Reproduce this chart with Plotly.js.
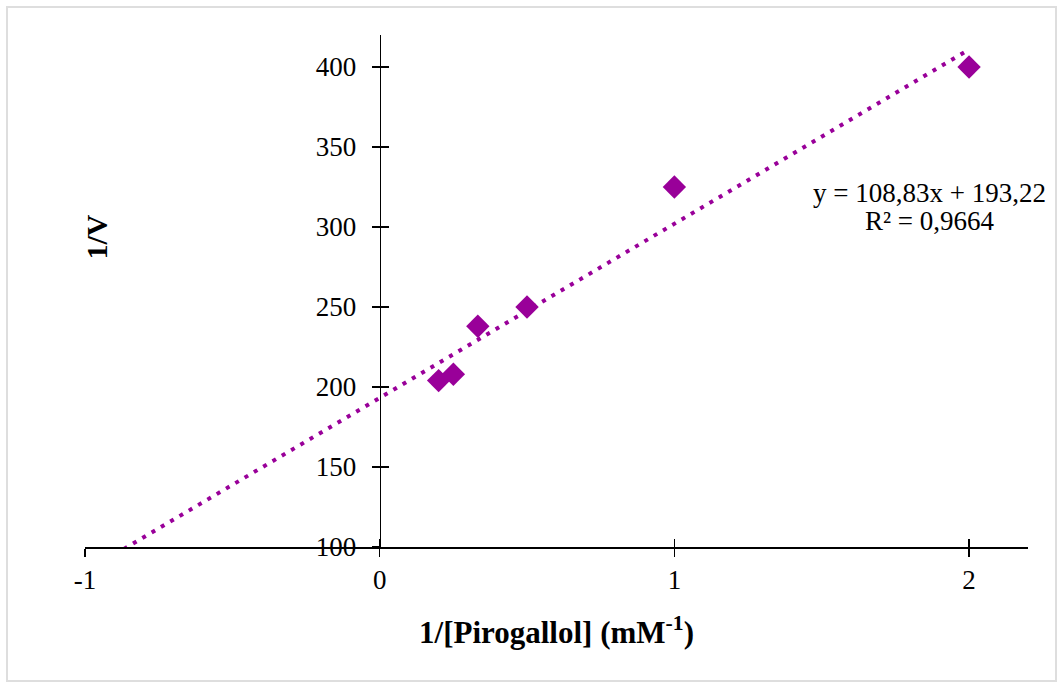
<!DOCTYPE html>
<html>
<head>
<meta charset="utf-8">
<script src="https://cdn.plot.ly/plotly-3.0.1.min.js"></script>
<style>
  html, body { margin: 0; padding: 0; background: #fff; }
  #wrap { position: relative; width: 1060px; height: 684px; }
  #chart { position: absolute; left: 0; top: 0; width: 1060px; height: 684px; }
  #frame { position: absolute; left: 6px; top: 6px; width: 1047px; height: 672px;
           border: 2px solid #dedede; pointer-events: none; }
</style>
</head>
<body>
<div id="wrap">
  <div id="chart"></div>
  <div id="frame"></div>
</div>
<script>
// Lineweaver-Burk data: 1/[S] (mM^-1) vs 1/V
const invSubstrate = [0.2, 0.25, 0.333, 0.5, 1, 2];
const invVelocity  = [204, 208, 238, 250, 325, 400];

// Linear trendline reported on the chart
const trendSlope = 108.83;
const trendIntercept = 193.22;
const trendRange = [-0.9, 2];
const equationLines = ["y = 108,83x + 193,22", "R² = 0,9664"];

const xTickVals = [-1, 0, 1, 2];
const xTickText = ["-1", "0", "1", "2"];
const yTickVals = [100, 150, 200, 250, 300, 350, 400];
const yTickText = ["100", "150", "200", "250", "300", "350", "400"];

const purple = "#990099";
const serif = "'Liberation Serif', 'Times New Roman', serif";

const trendY = trendRange.map(x => trendIntercept + trendSlope * x);

const traces = [
  {
    x: trendRange, y: trendY, type: "scatter", mode: "lines",
    line: { color: purple, width: 4, dash: "4px,6.8px" },
    hoverinfo: "skip", showlegend: false
  },
  {
    x: invSubstrate, y: invVelocity, type: "scatter", mode: "markers",
    marker: { symbol: "diamond", size: 18, color: purple, line: { width: 0 } },
    showlegend: false
  },
  { x: [], y: [], xaxis: "x2", yaxis: "y2", type: "scatter", mode: "markers", showlegend: false, hoverinfo: "skip" }
];

const xRange = [-1, 2.2];
const yRange = [100, 420];
const yAxisPos = (0 - xRange[0]) / (xRange[1] - xRange[0]);

const layout = {
  width: 1060, height: 684,
  paper_bgcolor: "#ffffff", plot_bgcolor: "#ffffff",
  margin: { l: 85, r: 32, t: 35, b: 137, pad: 0 },
  font: { family: serif, color: "#000", size: 27 },
  showlegend: false,
  xaxis: {
    range: xRange, showgrid: false, zeroline: false,
    showline: true, linecolor: "#000", linewidth: 1.5,
    ticks: "outside", ticklen: 8, tickwidth: 1.5, tickcolor: "#000",
    tickmode: "array", tickvals: xTickVals, ticktext: xTickText,
    tickfont: { family: serif, size: 27, color: "#000" },
    ticklabelstandoff: 0,
    anchor: "y",
    title: { text: "<b>1/[Pirogallol] (mM<sup>-1</sup>)</b>", font: { family: serif, size: 31, color: "#000" }, standoff: 27 }
  },
  yaxis: {
    range: yRange, showgrid: false, zeroline: false,
    showline: true, linecolor: "#000", linewidth: 1.5,
    ticks: "outside", ticklen: 8, tickwidth: 1.5, tickcolor: "#000",
    tickmode: "array", tickvals: yTickVals, ticktext: yTickText,
    tickfont: { family: serif, size: 27, color: "#000" },
    ticklabelstandoff: 10,
    anchor: "free", position: yAxisPos
  },
  xaxis2: {
    range: xRange, overlaying: "x", anchor: "y2", showgrid: false, zeroline: false,
    showline: false, ticks: "inside", ticklen: 8, tickwidth: 1.5, tickcolor: "#000",
    tickmode: "array", tickvals: xTickVals, showticklabels: false
  },
  yaxis2: {
    range: yRange, overlaying: "y", anchor: "free", position: yAxisPos,
    showgrid: false, zeroline: false,
    showline: false, ticks: "inside", ticklen: 8, tickwidth: 1.5, tickcolor: "#000",
    tickmode: "array", tickvals: yTickVals, showticklabels: false
  },
  annotations: [
    { xref: "x", yref: "y", x: 1.866, y: 321.5, text: equationLines[0], showarrow: false,
      font: { family: serif, size: 27, color: "#000" }, xanchor: "center", yanchor: "middle" },
    { xref: "x", yref: "y", x: 1.866, y: 303.5, text: equationLines[1], showarrow: false,
      font: { family: serif, size: 27, color: "#000" }, xanchor: "center", yanchor: "middle" },
    { xref: "paper", yref: "paper", x: 0.012, y: 0.605, text: "<b>1/V</b>", showarrow: false,
      textangle: -90, font: { family: serif, size: 30, color: "#000" }, xanchor: "center", yanchor: "middle" }
  ]
};

Plotly.newPlot("chart", traces, layout, { displayModeBar: false, staticPlot: true });
</script>
</body>
</html>
